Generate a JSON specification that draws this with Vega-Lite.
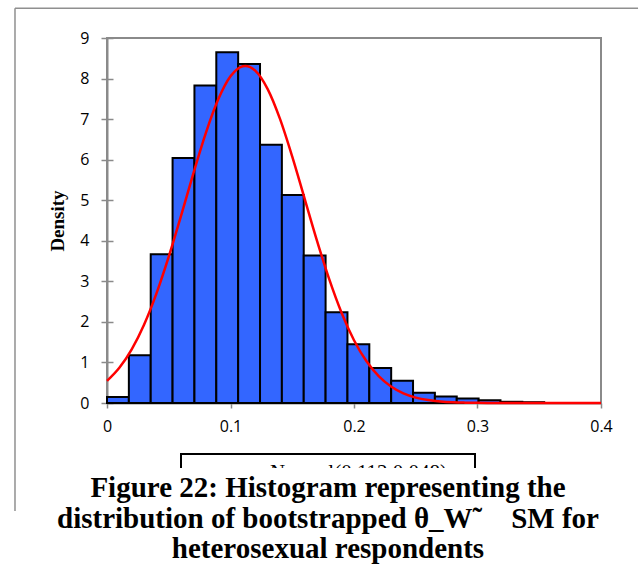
{
  "$schema": "https://vega.github.io/schema/vega-lite/v6.json",
  "background": "white",
  "padding": {"left": 13, "top": 6, "right": 0, "bottom": 0},
  "bounds": "flush",
  "spacing": 65,
  "resolve": {"scale": {"color": "independent"}},
  "datasets": {
    "bins": [
      {"bin_start": 0.0, "bin_end": 0.0177, "density": 0.15},
      {"bin_start": 0.0177, "bin_end": 0.0354, "density": 1.18},
      {"bin_start": 0.0354, "bin_end": 0.0531, "density": 3.67},
      {"bin_start": 0.0531, "bin_end": 0.0708, "density": 6.04},
      {"bin_start": 0.0708, "bin_end": 0.0885, "density": 7.83},
      {"bin_start": 0.0885, "bin_end": 0.1062, "density": 8.65},
      {"bin_start": 0.1062, "bin_end": 0.1239, "density": 8.36},
      {"bin_start": 0.1239, "bin_end": 0.1416, "density": 6.37},
      {"bin_start": 0.1416, "bin_end": 0.1593, "density": 5.13},
      {"bin_start": 0.1593, "bin_end": 0.177, "density": 3.64},
      {"bin_start": 0.177, "bin_end": 0.1947, "density": 2.24},
      {"bin_start": 0.1947, "bin_end": 0.2124, "density": 1.45},
      {"bin_start": 0.2124, "bin_end": 0.2301, "density": 0.86},
      {"bin_start": 0.2301, "bin_end": 0.2478, "density": 0.55},
      {"bin_start": 0.2478, "bin_end": 0.2655, "density": 0.25},
      {"bin_start": 0.2655, "bin_end": 0.2832, "density": 0.16},
      {"bin_start": 0.2832, "bin_end": 0.3009, "density": 0.11},
      {"bin_start": 0.3009, "bin_end": 0.3186, "density": 0.07},
      {"bin_start": 0.3186, "bin_end": 0.3363, "density": 0.03},
      {"bin_start": 0.3363, "bin_end": 0.354, "density": 0.02}
    ],
    "curve": [
      {"x": 0.0, "density": 0.546, "series": "Normal(0.112,0.048)"},
      {"x": 0.01, "density": 0.869, "series": "Normal(0.112,0.048)"},
      {"x": 0.02, "density": 1.324, "series": "Normal(0.112,0.048)"},
      {"x": 0.03, "density": 1.932, "series": "Normal(0.112,0.048)"},
      {"x": 0.04, "density": 2.698, "series": "Normal(0.112,0.048)"},
      {"x": 0.05, "density": 3.609, "series": "Normal(0.112,0.048)"},
      {"x": 0.06, "density": 4.622, "series": "Normal(0.112,0.048)"},
      {"x": 0.07, "density": 5.668, "series": "Normal(0.112,0.048)"},
      {"x": 0.08, "density": 6.655, "series": "Normal(0.112,0.048)"},
      {"x": 0.09, "density": 7.482, "series": "Normal(0.112,0.048)"},
      {"x": 0.1, "density": 8.055, "series": "Normal(0.112,0.048)"},
      {"x": 0.11, "density": 8.304, "series": "Normal(0.112,0.048)"},
      {"x": 0.112, "density": 8.311, "series": "Normal(0.112,0.048)"},
      {"x": 0.12, "density": 8.196, "series": "Normal(0.112,0.048)"},
      {"x": 0.13, "density": 7.747, "series": "Normal(0.112,0.048)"},
      {"x": 0.14, "density": 7.011, "series": "Normal(0.112,0.048)"},
      {"x": 0.15, "density": 6.075, "series": "Normal(0.112,0.048)"},
      {"x": 0.16, "density": 5.041, "series": "Normal(0.112,0.048)"},
      {"x": 0.17, "density": 4.005, "series": "Normal(0.112,0.048)"},
      {"x": 0.18, "density": 3.047, "series": "Normal(0.112,0.048)"},
      {"x": 0.19, "density": 2.22, "series": "Normal(0.112,0.048)"},
      {"x": 0.2, "density": 1.548, "series": "Normal(0.112,0.048)"},
      {"x": 0.21, "density": 1.034, "series": "Normal(0.112,0.048)"},
      {"x": 0.22, "density": 0.661, "series": "Normal(0.112,0.048)"},
      {"x": 0.23, "density": 0.405, "series": "Normal(0.112,0.048)"},
      {"x": 0.24, "density": 0.237, "series": "Normal(0.112,0.048)"},
      {"x": 0.25, "density": 0.133, "series": "Normal(0.112,0.048)"},
      {"x": 0.26, "density": 0.072, "series": "Normal(0.112,0.048)"},
      {"x": 0.27, "density": 0.037, "series": "Normal(0.112,0.048)"},
      {"x": 0.28, "density": 0.018, "series": "Normal(0.112,0.048)"},
      {"x": 0.29, "density": 0.009, "series": "Normal(0.112,0.048)"},
      {"x": 0.3, "density": 0.004, "series": "Normal(0.112,0.048)"},
      {"x": 0.32, "density": 0.001, "series": "Normal(0.112,0.048)"},
      {"x": 0.35, "density": 0.0, "series": "Normal(0.112,0.048)"},
      {"x": 0.4, "density": 0.0, "series": "Normal(0.112,0.048)"}
    ]
  },
  "vconcat": [
    {
      "width": 494,
      "height": 365,
      "view": {"stroke": "#8a8a8a", "strokeWidth": 2},
      "resolve": {"axis": {"x": "independent", "y": "independent"}},
      "layer": [
        {
          "data": {"values": [{}]},
          "mark": {"type": "rule", "color": "#8f8f8f", "strokeWidth": 1.5},
          "encoding": {
            "x": {"datum": -0.0745, "type": "quantitative", "scale": {"domain": [0, 0.4], "nice": false, "zero": false, "padding": 0}, "axis": null},
            "y": {"datum": 9.732, "type": "quantitative", "scale": {"domain": [0, 9], "nice": false, "padding": 0}, "axis": null},
            "y2": {"datum": -2.663}
          }
        },
        {
          "data": {"values": [{}]},
          "mark": {"type": "rule", "color": "#8f8f8f", "strokeWidth": 1.5},
          "encoding": {
            "x": {"datum": -0.0745, "type": "quantitative", "scale": {"domain": [0, 0.4], "nice": false, "zero": false, "padding": 0}, "axis": null},
            "x2": {"datum": 0.43},
            "y": {"datum": 9.732, "type": "quantitative", "scale": {"domain": [0, 9], "nice": false, "padding": 0}, "axis": null}
          }
        },
        {
          "data": {"name": "bins"},
          "mark": {"type": "rect", "fill": "#3366ff", "stroke": "black", "strokeWidth": 2},
          "encoding": {
            "x": {
              "field": "bin_start", "type": "quantitative",
              "scale": {"domain": [0, 0.4], "nice": false, "zero": false, "padding": 0},
              "axis": {
                "values": [0, 0.1, 0.2, 0.3, 0.4], "format": "~g", "title": null,
                "labelFont": "Open Sans", "labelFontSize": 16, "labelColor": "black",
                "labelPadding": 10, "labelFlush": false, "tickSize": 5, "tickWidth": 1.5,
                "tickColor": "#8a8a8a", "domainColor": "#8a8a8a", "domainWidth": 2, "grid": false
              }
            },
            "x2": {"field": "bin_end"},
            "y": {
              "field": "density", "type": "quantitative",
              "scale": {"domain": [0, 9], "nice": false, "padding": 0},
              "axis": {
                "orient": "left", "values": [0, 1, 2, 3, 4, 5, 6, 7, 8, 9], "title": "Density",
                "titleFont": "Liberation Serif", "titleFontWeight": "bold", "titleFontSize": 19,
                "titleColor": "black", "titlePadding": 12,
                "labelFont": "Open Sans", "labelFontSize": 16, "labelColor": "black", "labelPadding": 12,
                "tickSize": 6, "tickWidth": 1.5, "tickColor": "#8a8a8a",
                "domainColor": "#8a8a8a", "domainWidth": 2, "grid": false
              }
            },
            "y2": {"datum": 0}
          }
        },
        {
          "data": {"name": "curve"},
          "mark": {"type": "line", "strokeWidth": 2.5, "interpolate": "monotone"},
          "encoding": {
            "x": {"field": "x", "type": "quantitative", "scale": {"domain": [0, 0.4], "nice": false, "zero": false, "padding": 0}, "axis": null},
            "y": {
              "field": "density", "type": "quantitative",
              "scale": {"domain": [0, 9], "nice": false, "padding": 0},
              "axis": {
                "orient": "left", "values": [0, 1, 2, 3, 4, 5, 6, 7, 8, 9], "title": null,
                "labels": false, "domain": false, "tickSize": -6, "tickWidth": 1.5,
                "tickColor": "#8a8a8a", "grid": false
              }
            },
            "color": {
              "field": "series", "type": "nominal",
              "scale": {"range": ["#ff0000"]},
              "legend": {
                "orient": "none", "legendX": 74, "legendY": 416,
                "title": "\u00a0", "titleOrient": "right", "titlePadding": 21,
                "titleFont": "Liberation Serif", "titleFontSize": 21,
                "strokeColor": "black", "fillColor": "white", "padding": 7,
                "symbolType": "stroke", "symbolSize": 441, "symbolStrokeWidth": 3,
                "labelFont": "Liberation Serif", "labelFontSize": 21, "labelColor": "black",
                "labelOffset": 58, "labelLimit": 400
              }
            }
          }
        }
      ]
    },
    {
      "width": 442,
      "height": 40,
      "view": {"fill": "white", "stroke": null},
      "data": {"values": [{}]},
      "mark": {
        "type": "text",
        "text": [
          "Figure 22: Histogram representing the",
          "distribution of bootstrapped θ_W˜\u00a0\u00a0\u00a0\u00a0SM for",
          "heterosexual respondents"
        ],
        "font": "Liberation Serif",
        "fontWeight": "bold",
        "fontSize": 29,
        "lineHeight": 30.5,
        "align": "center",
        "baseline": "middle",
        "color": "black"
      }
    }
  ],
  "config": {
    "legend": {"strokeWidth": 2}
  }
}
